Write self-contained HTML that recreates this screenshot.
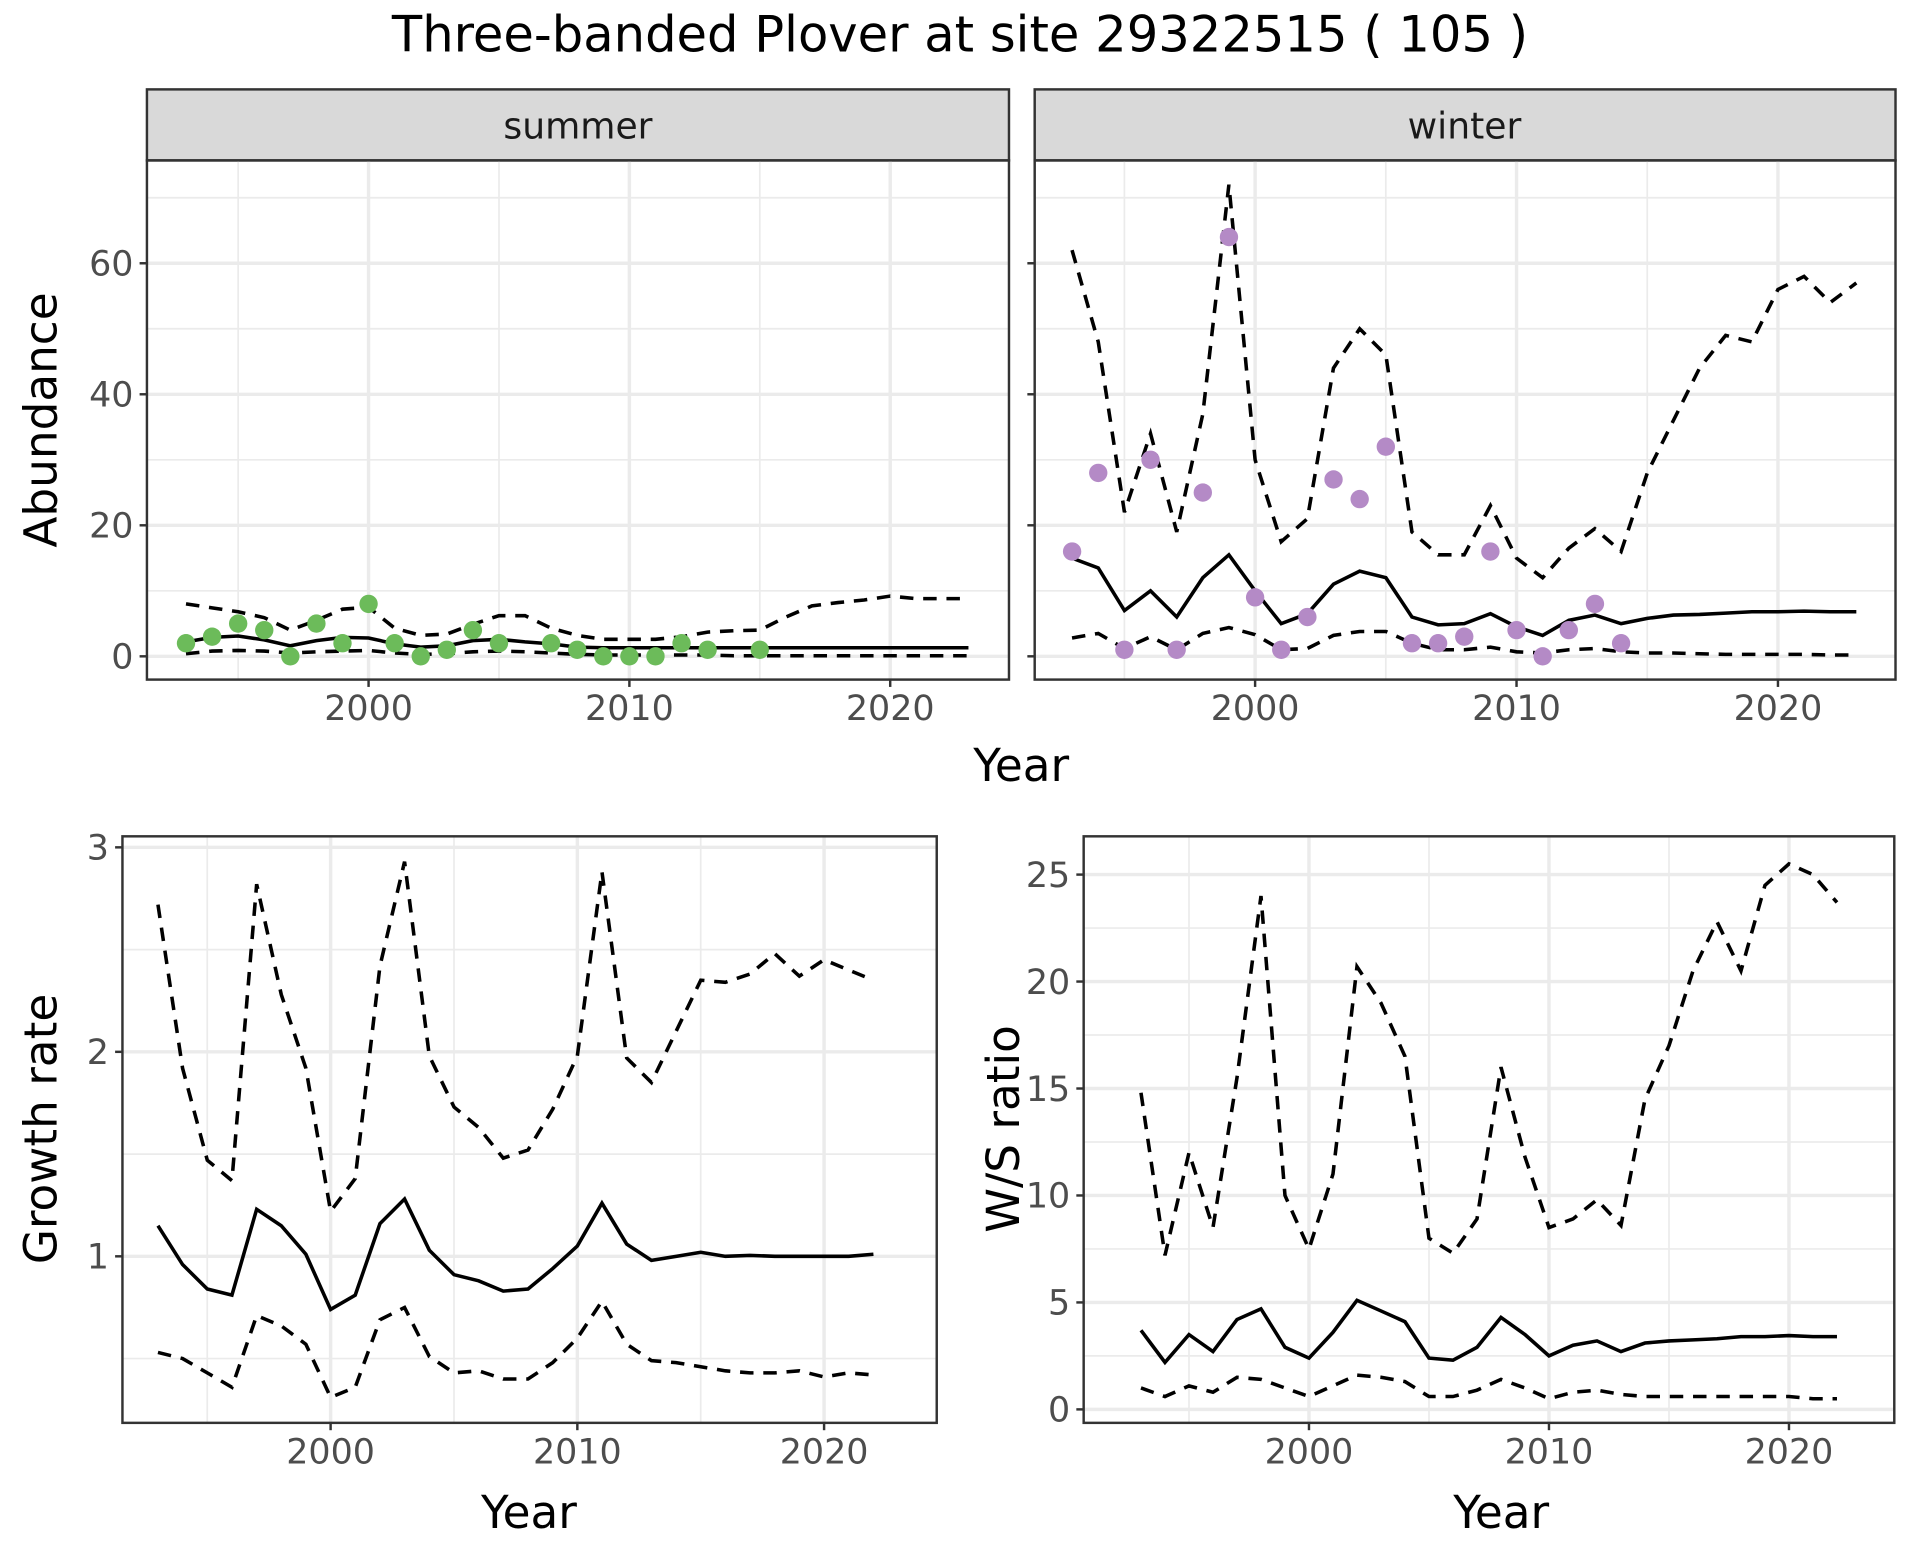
<!DOCTYPE html>
<html><head><meta charset="utf-8"><style>html,body{margin:0;padding:0;background:#fff}svg{display:block}</style></head>
<body>
<svg id="s" width="1920" height="1560" viewBox="0 0 1568 1274" xmlns="http://www.w3.org/2000/svg" font-family="'DejaVu Sans','Liberation Sans',sans-serif"></svg>
<script>
const S=document.getElementById('s');let h='';
function ln(x1,y1,x2,y2,c,w,extra){h+=`<line x1="${x1}" y1="${y1}" x2="${x2}" y2="${y2}" stroke="${c}" stroke-width="${w}" ${extra||''}/>`;}
function tx(x,y,t,sz,anc,col,extra){h+=`<text x="${x}" y="${y}" font-size="${sz}" text-anchor="${anc||'middle'}" fill="${col||'#4d4d4d'}" ${extra||''}>${t}</text>`;}
function panel(p){
 for(const v of p.ymin){const y=p.yf(v);if(y>p.y0&&y<p.y1)ln(p.x0,y,p.x1,y,'#ebebeb',1.4);}
 for(const v of p.xmin){const x=p.xf(v);ln(x,p.y0,x,p.y1,'#ebebeb',1.4);}
 for(const v of p.ymaj){const y=p.yf(v);ln(p.x0,y,p.x1,y,'#ebebeb',2.8);}
 for(const v of p.xmaj){const x=p.xf(v);ln(x,p.y0,x,p.y1,'#ebebeb',2.8);}
 for(const s of p.series){const pts=s.v.map((v,i)=>p.xf(s.start+i).toFixed(1)+','+p.yf(v).toFixed(1)).join(' ');
  h+=`<polyline points="${pts}" fill="none" stroke="#000" stroke-width="2.9" ${s.d?'stroke-dasharray="11,8"':''}/>`;}
 if(p.pts)for(const [yr,v] of p.pts)h+=`<circle cx="${p.xf(yr)}" cy="${p.yf(v)}" r="7.5" fill="${p.col}"/>`;
 h+=`<rect x="${p.x0}" y="${p.y0}" width="${p.x1-p.x0}" height="${p.y1-p.y0}" fill="none" stroke="#333" stroke-width="2"/>`;
 for(const v of p.xmaj){const x=p.xf(v);ln(x,p.y1,x,p.y1+6,'#333',2);tx(x,p.y1+33,v,28.5);}
 for(const v of p.ymaj){const y=p.yf(v);ln(p.x0-6,y,p.x0,y,'#333',2);if(p.ylab)tx(p.x0-11,y+10,v,28.5,'end');}
}
tx(784,42,'Three-banded Plover at site 29322515 ( 105 )',40.5,'middle','#000');
h+=`<rect x="120" y="73" width="704" height="58" fill="#d9d9d9" stroke="#333" stroke-width="2"/>`;
h+=`<rect x="845" y="73" width="703" height="58" fill="#d9d9d9" stroke="#333" stroke-width="2"/>`;
tx(472,113,'summer',29.5,'middle','#1a1a1a');tx(1196,113,'winter',29.5,'middle','#1a1a1a');
const ayf=v=>536-5.35*v;
panel({x0:120,x1:824,y0:131,y1:555,xf:y=>301+21.3*(y-2000),yf:ayf,xmaj:[2000,2010,2020],xmin:[1995,2005,2015],ymaj:[0,20,40,60],ymin:[10,30,50,70],ylab:true,col:'#6cbb5a',
series:[
{start:1993,v:[2.2,2.9,3.1,2.5,1.6,2.4,2.9,2.8,1.9,1.4,1.6,2.4,2.6,2.2,1.9,1.4,1.3,1.3,1.3,1.3,1.3,1.3,1.3,1.3,1.3,1.3,1.3,1.3,1.3,1.3,1.3]},
{start:1993,d:1,v:[8,7.4,6.8,5.9,4,5.5,7.2,7.5,4.3,3.2,3.4,4.9,6.2,6.2,4.3,3.2,2.6,2.6,2.6,3,3.7,3.9,4,6,7.7,8.2,8.6,9.2,8.8,8.8,8.8]},
{start:1993,d:1,v:[0.4,0.8,0.9,0.8,0.5,0.7,0.8,0.9,0.5,0.3,0.4,0.7,0.8,0.7,0.5,0.3,0.2,0.2,0.2,0.2,0.2,0.1,0.1,0.1,0.1,0.1,0.1,0.1,0.1,0.1,0.1]}],
pts:[[1993,2],[1994,3],[1995,5],[1996,4],[1997,0],[1998,5],[1999,2],[2000,8],[2001,2],[2002,0],[2003,1],[2004,4],[2005,2],[2007,2],[2008,1],[2009,0],[2010,0],[2011,0],[2012,2],[2013,1],[2015,1]]});
panel({x0:845,x1:1548,y0:131,y1:555,xf:y=>1025+21.35*(y-2000),yf:ayf,xmaj:[2000,2010,2020],xmin:[1995,2005,2015],ymaj:[0,20,40,60],ymin:[10,30,50,70],ylab:false,col:'#b48ac6',
series:[
{start:1993,v:[15,13.5,7,10,6,12,15.5,10,5,6.5,11,13,12,6,4.8,5,6.5,4.5,3.2,5.5,6.3,5,5.8,6.3,6.4,6.6,6.8,6.8,6.9,6.8,6.8]},
{start:1993,d:1,v:[62,48,22,34,19,37,72,30,17.5,21,44,50,46,19,15.5,15.5,23,15,12,16.5,19.5,16,28,36,44,49,48,56,58,54,57]},
{start:1993,d:1,v:[2.8,3.5,1.2,3,1,3.5,4.4,3.3,1,1.2,3.2,3.8,3.8,2,1,1,1.4,0.7,0.5,1,1.2,0.7,0.5,0.5,0.4,0.3,0.3,0.3,0.3,0.2,0.2]}],
pts:[[1993,16],[1994,28],[1995,1],[1996,30],[1997,1],[1998,25],[1999,64],[2000,9],[2001,1],[2002,6],[2003,27],[2004,24],[2005,32],[2006,2],[2007,2],[2008,3],[2009,16],[2010,4],[2011,0],[2012,4],[2013,8],[2014,2]]});
tx(834,638,'Year',37,'middle','#000');
tx(0,0,'Abundance',37,'middle','#000','transform="translate(46,343) rotate(-90)"');
panel({x0:100,x1:765,y0:683,y1:1162,xf:y=>270+20.15*(y-2000),yf:v=>1026-167*(v-1),xmaj:[2000,2010,2020],xmin:[1995,2005,2015],ymaj:[1,2,3],ymin:[0.5,1.5,2.5],ylab:true,
series:[
{start:1993,v:[1.15,0.96,0.84,0.81,1.23,1.15,1.01,0.74,0.81,1.16,1.28,1.03,0.91,0.88,0.83,0.84,0.94,1.05,1.26,1.06,0.98,1.0,1.02,1.0,1.005,1.0,1.0,1.0,1.0,1.01]},
{start:1993,d:1,v:[2.72,1.92,1.47,1.37,2.82,2.28,1.92,1.22,1.38,2.42,2.93,1.98,1.73,1.63,1.48,1.52,1.72,1.98,2.88,1.97,1.85,2.1,2.35,2.34,2.38,2.48,2.37,2.45,2.4,2.35]},
{start:1993,d:1,v:[0.53,0.5,0.43,0.36,0.71,0.66,0.57,0.31,0.36,0.69,0.75,0.51,0.43,0.44,0.4,0.4,0.48,0.6,0.78,0.57,0.49,0.48,0.46,0.44,0.43,0.43,0.44,0.41,0.43,0.42]}]});
tx(432,1248,'Year',37,'middle','#000');
tx(0,0,'Growth rate',37,'middle','#000','transform="translate(46,922) rotate(-90)"');
panel({x0:885,x1:1547,y0:683,y1:1162,xf:y=>1069+19.6*(y-2000),yf:v=>1151-17.47*v,xmaj:[2000,2010,2020],xmin:[1995,2005,2015],ymaj:[0,5,10,15,20,25],ymin:[2.5,7.5,12.5,17.5,22.5],ylab:true,
series:[
{start:1993,v:[3.7,2.2,3.5,2.7,4.2,4.7,2.9,2.4,3.6,5.1,4.6,4.1,2.4,2.3,2.9,4.3,3.5,2.5,3,3.2,2.7,3.1,3.2,3.25,3.3,3.4,3.4,3.45,3.4,3.4]},
{start:1993,d:1,v:[14.8,7.2,12,8.5,15.5,24,10,7.5,11,20.7,19,16.5,8,7.3,8.9,16,11.8,8.5,8.9,9.8,8.6,14.5,17,20.5,22.8,20.5,24.5,25.5,25,23.7]},
{start:1993,d:1,v:[1,0.6,1.1,0.8,1.5,1.4,1,0.6,1.1,1.6,1.5,1.3,0.6,0.6,0.9,1.4,1,0.5,0.8,0.9,0.7,0.6,0.6,0.6,0.6,0.6,0.6,0.6,0.5,0.5]}]});
tx(1226,1248,'Year',37,'middle','#000');
tx(0,0,'W/S ratio',37,'middle','#000','transform="translate(832,922) rotate(-90)"');
S.innerHTML=h;
</script>
</body></html>
